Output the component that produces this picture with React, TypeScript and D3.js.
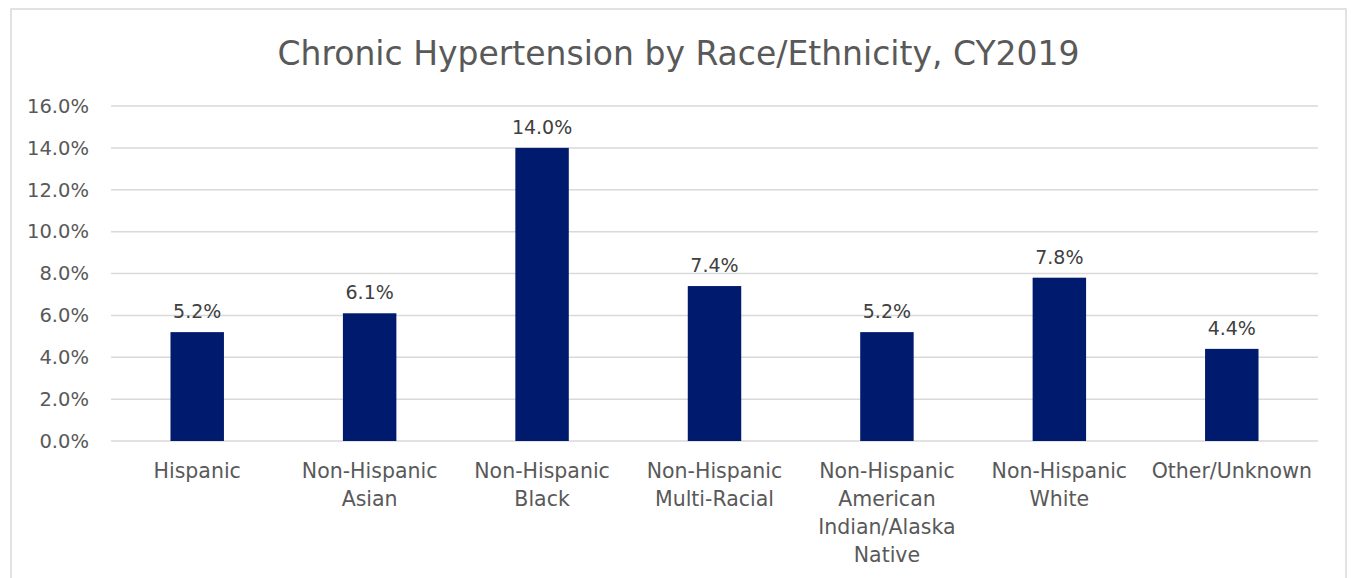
import React from "react";
import * as d3 from "d3";

const categories: string[][] = [
  ["Hispanic"],
  ["Non-Hispanic", "Asian"],
  ["Non-Hispanic", "Black"],
  ["Non-Hispanic", "Multi-Racial"],
  ["Non-Hispanic", "American", "Indian/Alaska", "Native"],
  ["Non-Hispanic", "White"],
  ["Other/Unknown"],
];
const rates: number[] = [5.2, 6.1, 14.0, 7.4, 5.2, 7.8, 4.4];
const yTicks: number[] = [0, 2, 4, 6, 8, 10, 12, 14, 16];
const title = "Chronic Hypertension by Race/Ethnicity, CY2019";

const W = 1351;
const H = 578;
const FONT = "'DejaVu Sans', Verdana, sans-serif";

export default function App() {
  const left = 111;
  const right = 1318;
  const top = 106;
  const bottom = 441;

  const x = d3
    .scaleBand<number>()
    .domain(d3.range(rates.length))
    .range([left, right])
    .paddingInner(0.69)
    .paddingOuter(0.345);
  const y = d3.scaleLinear().domain([0, 16]).range([bottom, top]);
  const fmt = (v: number) => d3.format(".1f")(v) + "%";

  return (
    <svg
      width={W}
      height={H}
      style={{ position: "absolute", left: 0, top: 0, background: "#fff" }}
      fontFamily={FONT}
    >
      <rect x={11} y={9} width={1335} height={H} fill="#fff" stroke="#d9d9d9" strokeWidth={1.5} />
      <text x={678.5} y={65} textAnchor="middle" fontSize={33} fill="#595959">
        {title}
      </text>
      {yTicks.map((t) => (
        <g key={t}>
          <line x1={left} x2={right} y1={y(t)} y2={y(t)} stroke="#d9d9d9" strokeWidth={1.5} />
          <text x={89} y={y(t)} dy="0.35em" textAnchor="end" fontSize={19.5} fill="#595959">
            {fmt(t)}
          </text>
        </g>
      ))}
      {rates.map((v, i) => (
        <g key={i}>
          <rect
            x={x(i)}
            y={y(v)}
            width={x.bandwidth()}
            height={bottom - y(v)}
            fill="#001A6E"
          />
          <text
            x={(x(i) as number) + x.bandwidth() / 2}
            y={y(v) - 14}
            textAnchor="middle"
            fontSize={19}
            fill="#404040"
          >
            {fmt(v)}
          </text>
          {categories[i].map((line, j) => (
            <text
              key={j}
              x={(x(i) as number) + x.bandwidth() / 2}
              y={478 + j * 28}
              textAnchor="middle"
              fontSize={20.5}
              fill="#595959"
            >
              {line}
            </text>
          ))}
        </g>
      ))}
    </svg>
  );
}
